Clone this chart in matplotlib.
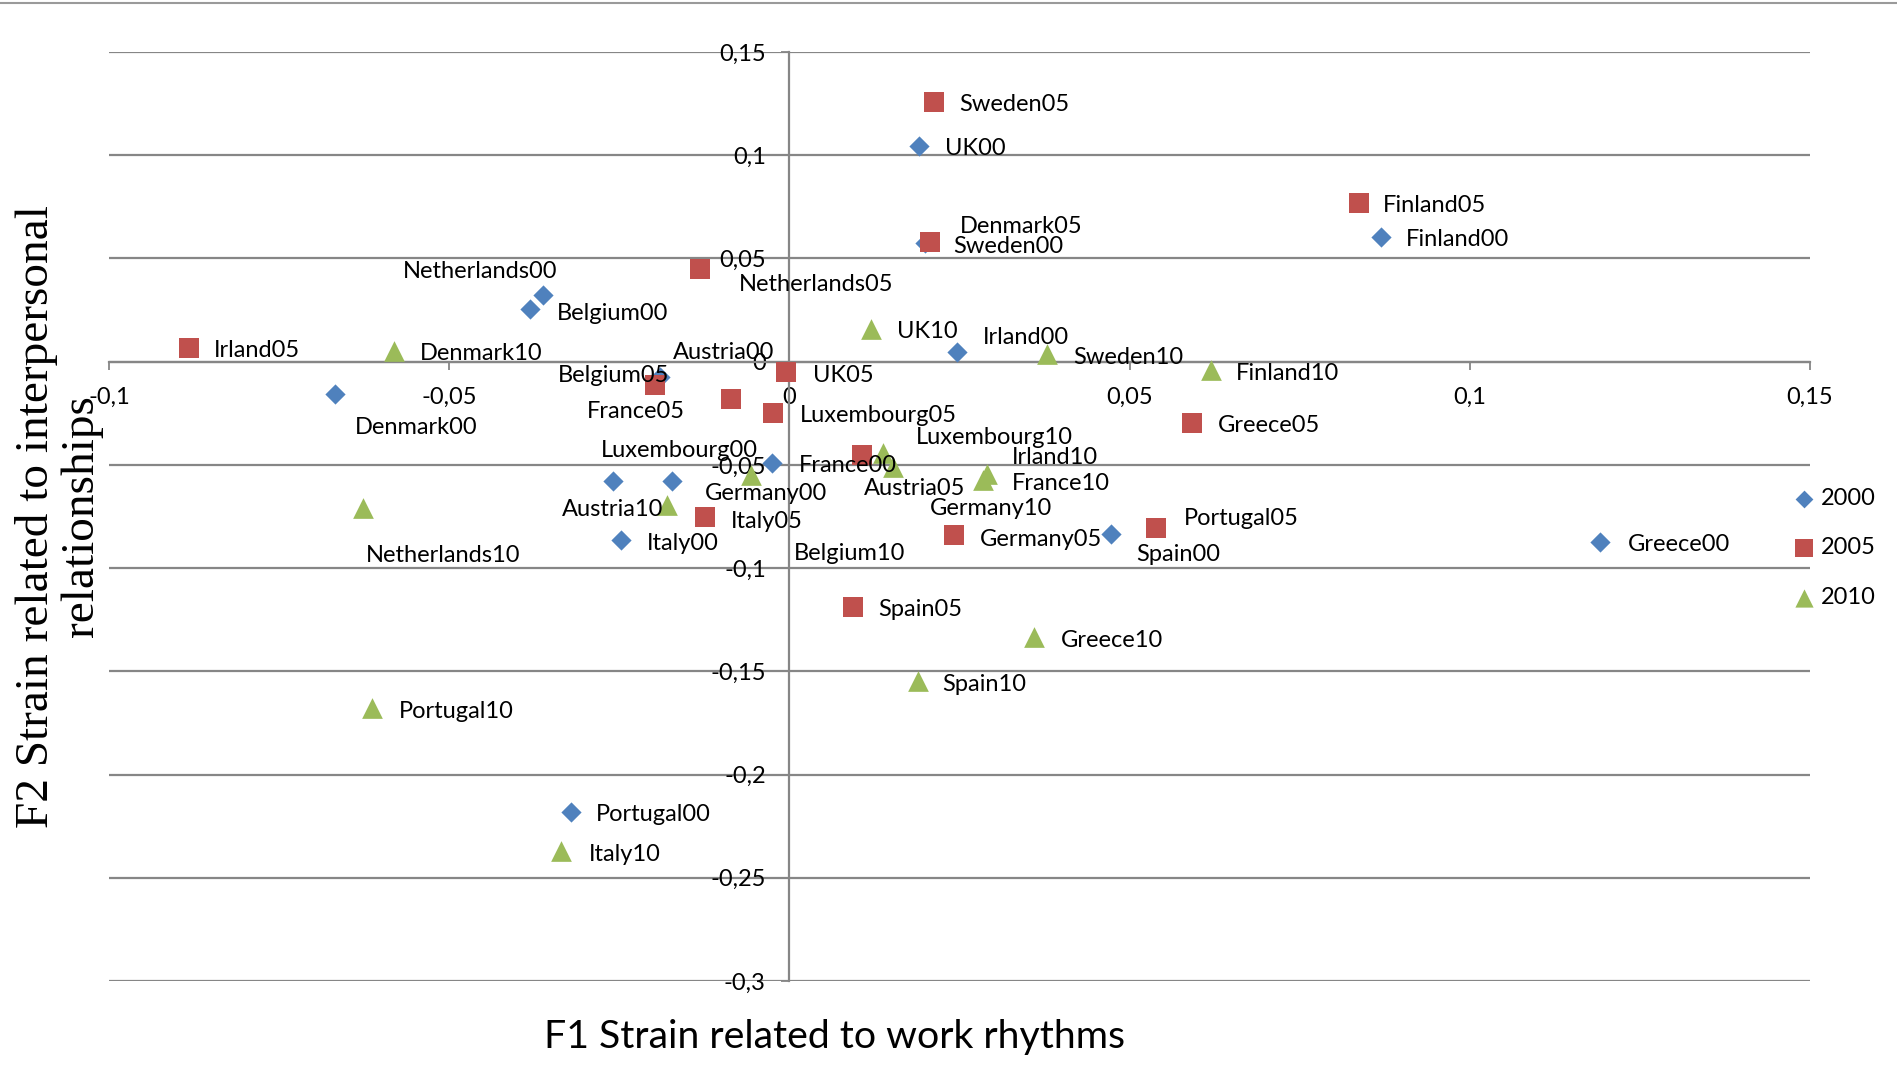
import matplotlib
matplotlib.use("Agg")
import matplotlib.pyplot as plt
from matplotlib.lines import Line2D
from matplotlib.ticker import FixedLocator, FixedFormatter

# ---------------- data ----------------
countries_2000 = ["UK00", "Finland00", "Sweden00", "Netherlands00", "Belgium00", "Irland00",
                  "Denmark00", "Austria00", "Luxembourg00", "Germany00", "France00", "Italy00",
                  "Portugal00", "Greece00", "Spain00"]
f1_2000 = [0.0191, 0.0869, 0.0199, -0.0362, -0.0381, 0.0246, -0.0668, -0.0190, -0.0259,
           -0.0172, -0.0026, -0.0247, -0.0321, 0.1192, 0.0472]
f2_2000 = [0.1045, 0.0604, 0.0574, 0.0323, 0.0255, 0.0048, -0.0156, -0.0073, -0.0576,
           -0.0576, -0.0492, -0.0864, -0.2180, -0.0873, -0.0836]

countries_2005 = ["Sweden05", "Finland05", "Denmark05", "Netherlands05", "Irland05", "Belgium05",
                  "UK05", "France05", "Luxembourg05", "Austria05", "Italy05", "Spain05",
                  "Germany05", "Portugal05", "Greece05"]
f1_2005 = [0.0212, 0.0837, 0.0207, -0.0131, -0.0883, -0.0197, -0.0005, -0.0086, -0.0024,
           0.0107, -0.0124, 0.0093, 0.0242, 0.0539, 0.0591]
f2_2005 = [0.1259, 0.0768, 0.0581, 0.0448, 0.0064, -0.0113, -0.0051, -0.0181, -0.0250,
           -0.0452, -0.0751, -0.1187, -0.0839, -0.0807, -0.0295]

countries_2010 = ["UK10", "Denmark10", "Sweden10", "Finland10", "Netherlands10", "Austria10",
                  "Belgium10", "Luxembourg10", "Germany10", "Irland10", "France10", "Italy10",
                  "Portugal10", "Spain10", "Greece10"]
f1_2010 = [0.0120, -0.0581, 0.0378, 0.0620, -0.0627, -0.0180, -0.0056, 0.0137, 0.0152,
           0.0291, 0.0284, -0.0335, -0.0614, 0.0189, 0.0360]
f2_2010 = [0.0160, 0.0053, 0.0035, -0.0041, -0.0709, -0.0694, -0.0549, -0.0444, -0.0509,
           -0.0545, -0.0575, -0.2368, -0.1676, -0.1547, -0.1336]

series_names = ["2000", "2005", "2010"]

x_ticks = [-0.1, -0.05, 0, 0.05, 0.1, 0.15]
x_tick_labels = ["-0,1", "-0,05", "0", "0,05", "0,1", "0,15"]
y_ticks = [-0.3, -0.25, -0.2, -0.15, -0.1, -0.05, 0, 0.05, 0.1, 0.15]
y_tick_labels = ["-0,3", "-0,25", "-0,2", "-0,15", "-0,1", "-0,05", "0", "0,05", "0,1", "0,15"]

x_title = "F1 Strain related to work rhythms"
y_title = "F2 Strain related to interpersonal\nrelationships"

# ---------------- label placement (pixel offsets, alignment) ----------------
label_pos_2000 = [(26, 0, "left"), (25, 0, "left"), (28, -1, "left"), (-63, 26, "center"),
                  (27, -2, "left"), (26, 17, "left"), (81, -31, "center"), (63, 27, "center"),
                  (66, 33, "center"), (33, -10, "left"), (27, 0, "left"), (26, -1, "left"),
                  (25, 0, "left"), (27, 0, "left"), (68, -18, "center")]
label_pos_2005 = [(26, 0, "left"), (24, 0, "left"), (30, 18, "left"), (39, -13, "left"),
                  (25, 0, "left"), (14, 12, "right"), (27, -1, "left"), (-46, -10, "right"),
                  (27, 0, "left"), (52, -31, "center"), (26, -2, "left"), (26, 0, "left"),
                  (26, -2, "left"), (28, 12, "left"), (26, 0, "left")]
label_pos_2010 = [(26, 0, "left"), (26, 0, "left"), (27, -1, "left"), (25, -1, "left"),
                  (80, -45, "center"), (-4, -2, "right"), (43, -76, "left"), (112, 18, "center"),
                  (98, -39, "center"), (24, 19, "left"), (29, -1, "left"), (27, -1, "left"),
                  (27, -1, "left"), (24, -1, "left"), (27, -1, "left")]
LABEL_DY = -2.5

# ---------------- style ----------------
FONT = "Lato"
LABEL_SIZE = 17
GRID = "#868686"
colors = ["#4F81BD", "#C0504D", "#9BBB59"]
markers = ["D", "s", "^"]
sizes = [106, 218, 222]

plt.rcParams["font.family"] = [FONT, "DejaVu Sans"]

fig = plt.figure(figsize=(18.97, 10.92), dpi=100)
ax = fig.add_axes([109 / 1897, 1 - 981 / 1092, (1810 - 109) / 1897, (981 - 52) / 1092])

ax.set_xlim(-0.1, 0.15)
ax.set_ylim(-0.3, 0.15)

for s in ["top", "right"]:
    ax.spines[s].set_visible(False)
ax.spines["left"].set_position(("data", 0))
ax.spines["bottom"].set_position(("data", 0))
for s in ["left", "bottom"]:
    ax.spines[s].set_color(GRID)
    ax.spines[s].set_linewidth(1.6)
    ax.spines[s].set_zorder(1.5)

ax.xaxis.set_major_locator(FixedLocator(x_ticks))
ax.xaxis.set_major_formatter(FixedFormatter(x_tick_labels))
ax.yaxis.set_major_locator(FixedLocator(y_ticks))
ax.yaxis.set_major_formatter(FixedFormatter(y_tick_labels))
ax.tick_params(axis="x", direction="out", length=6, width=1.3, color=GRID, pad=12,
               labelsize=LABEL_SIZE)
ax.tick_params(axis="y", direction="out", length=6, width=1.3, color=GRID, pad=11,
               labelsize=LABEL_SIZE)
ax.yaxis.grid(True, color=GRID, linewidth=1.6, zorder=0)
ax.set_axisbelow(True)

all_series = [
    (f1_2000, f2_2000, countries_2000, label_pos_2000),
    (f1_2005, f2_2005, countries_2005, label_pos_2005),
    (f1_2010, f2_2010, countries_2010, label_pos_2010),
]
handles = []
for i, (xs, ys, names, lpos) in enumerate(all_series):
    h = ax.scatter(xs, ys, marker=markers[i], s=sizes[i], color=colors[i], linewidths=0,
                   zorder=3, label=series_names[i], clip_on=False)
    handles.append(h)
    for x, y, name, (dx, dy, ha) in zip(xs, ys, names, lpos):
        ax.annotate(name, (x, y), xytext=(dx, dy + LABEL_DY), textcoords="offset pixels",
                    ha=ha, va="center", fontsize=LABEL_SIZE, color="black", zorder=4)

fig.legend(handles=handles, labels=series_names, loc="center left",
           bbox_to_anchor=(1795 / 1897, 1 - 548 / 1092), frameon=False,
           fontsize=LABEL_SIZE, handlelength=0.8, handletextpad=0.3, labelspacing=1.2,
           borderpad=0, borderaxespad=0, markerscale=0.88, scatterpoints=1)

fig.text(834 / 1897, 1 - 1037 / 1092, x_title, ha="center", va="center", fontsize=28.3)
fig.text(59 / 1897, 1 - 516 / 1092, y_title, ha="center", va="center", rotation=90,
         fontsize=34, family="Liberation Serif", linespacing=1.08, multialignment="center")

fig.add_artist(Line2D([0, 1], [1 - 3 / 1092, 1 - 3 / 1092], color="#9a9a9a", linewidth=1.5,
                      transform=fig.transFigure))

fig.savefig("out.png", dpi=100, facecolor="white")
